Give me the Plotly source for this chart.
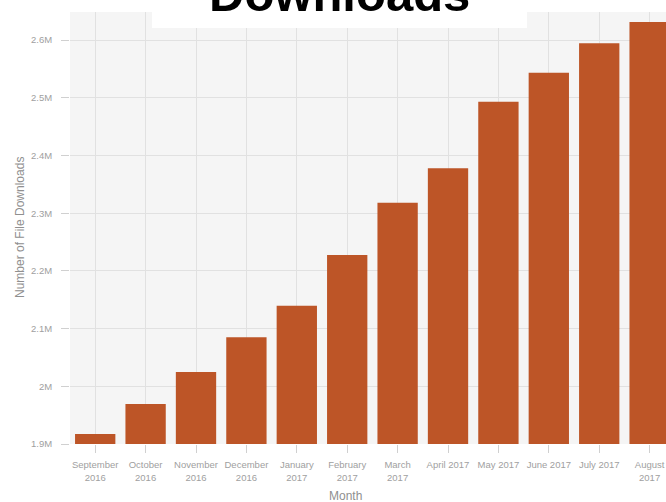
import plotly.graph_objects as go

months = ["September<br>2016", "October<br>2016", "November<br>2016", "December<br>2016",
          "January<br>2017", "February<br>2017", "March<br>2017", "April 2017",
          "May 2017", "June 2017", "July 2017", "August<br>2017"]
downloads = [1917300, 1969300, 2024800, 2084900, 2139700, 2227500,
             2318200, 2377800, 2493200, 2543500, 2594400, 2631300]
y_tickvals = [1900000, 2000000, 2100000, 2200000, 2300000, 2400000, 2500000, 2600000]
y_ticktext = ["1.9M", "2M", "2.1M", "2.2M", "2.3M", "2.4M", "2.5M", "2.6M"]

W, H = 666, 502
L, T, B = 70, 12, 58
PW, PH = W - L, H - T - B

def px_x(p):
    return (p - L) / PW

def px_y(p):
    return (H - B - p) / PH

font_fam = "Liberation Sans, Arial, sans-serif"
tick_col = "#a0a0a0"
grid_col = "#e1e1e1"

fig = go.Figure(go.Bar(
    x=list(range(len(months))), y=downloads,
    marker=dict(color="#bd5527", line=dict(width=0)),
    width=0.8,
))

fig.update_layout(
    width=W, height=H,
    margin=dict(l=L, r=0, t=T, b=B, pad=0),
    paper_bgcolor="white",
    plot_bgcolor="#f5f5f5",
    showlegend=False,
    font=dict(family=font_fam, color=tick_col),
    bargap=0.2,
)

fig.update_xaxes(
    range=[-0.5, 11.325],
    tickmode="array", tickvals=list(range(len(months))), ticktext=months,
    tickfont=dict(size=9.5, color=tick_col),
    ticks="outside", ticklen=8, tickcolor="#d0d0d0", tickwidth=1,
    ticklabelstandoff=4,
    showgrid=True, gridcolor=grid_col, gridwidth=1.3,
    zeroline=False, showline=False,
)
fig.update_yaxes(
    range=[1900000, 1900000 + PH / 577.0 * 1e6],
    tickmode="array", tickvals=y_tickvals, ticktext=y_ticktext,
    tickfont=dict(size=9.5, color=tick_col),
    ticks="outside", ticklen=8, tickcolor="#d0d0d0", tickwidth=1,
    ticklabelstandoff=7,
    showgrid=True, gridcolor=grid_col, gridwidth=1.3,
    zeroline=False, showline=False,
)

# white title box
fig.add_shape(type="rect", xref="paper", yref="paper",
              x0=px_x(152), x1=px_x(527), y0=px_y(28), y1=px_y(-5),
              fillcolor="white", line=dict(width=0), layer="above")

fig.add_annotation(text="<b>Downloads</b>", xref="paper", yref="paper",
                   x=px_x(339), y=px_y(-3), xanchor="center", yanchor="middle",
                   yshift=3,
                   showarrow=False, font=dict(size=49, color="black", family=font_fam))

fig.add_annotation(text="Month", xref="paper", yref="paper",
                   x=px_x(345), y=px_y(496), xanchor="center", yanchor="middle",
                   showarrow=False, font=dict(size=12, color="#8f8f8f", family=font_fam))

fig.add_annotation(text="Number of File Downloads", xref="paper", yref="paper",
                   x=px_x(20), y=px_y(228), xanchor="center", yanchor="middle",
                   textangle=-90, showarrow=False,
                   font=dict(size=12, color="#8f8f8f", family=font_fam))

fig.write_html("out.html")
